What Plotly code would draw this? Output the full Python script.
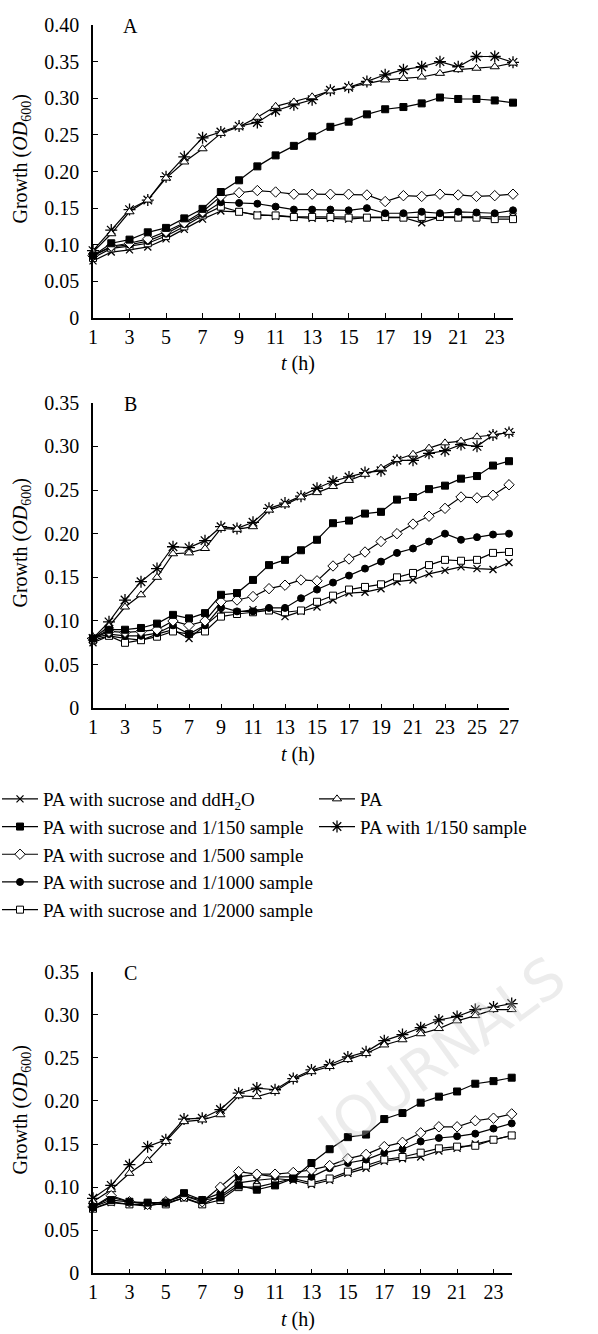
import plotly.graph_objects as go

W, H = 598, 1334

# ---------------- data ----------------
hours_A = [1, 2, 3, 4, 5, 6, 7, 8, 9, 10, 11, 12, 13, 14, 15, 16, 17, 18, 19, 20, 21, 22, 23, 24]
hours_B = [1, 2, 3, 4, 5, 6, 7, 8, 9, 10, 11, 12, 13, 14, 15, 16, 17, 18, 19, 20, 21, 22, 23, 24, 25, 26, 27]
hours_C = [1, 2, 3, 4, 5, 6, 7, 8, 9, 10, 11, 12, 13, 14, 15, 16, 17, 18, 19, 20, 21, 22, 23, 24]

series_names = [
    "PA with sucrose and ddH<sub>2</sub>O",
    "PA with sucrose and 1/150 sample",
    "PA with sucrose and 1/500 sample",
    "PA with sucrose and 1/1000 sample",
    "PA with sucrose and 1/2000 sample",
    "PA",
    "PA with 1/150 sample",
]

A_ddH2O = [0.078, 0.090, 0.093, 0.097, 0.108, 0.121, 0.135, 0.146, 0.145, 0.141, 0.139, 0.137, 0.136, 0.136, 0.135, 0.137, 0.137, 0.137, 0.130, 0.138, 0.138, 0.138, 0.137, 0.138]
A_s150 = [0.085, 0.102, 0.107, 0.117, 0.123, 0.136, 0.149, 0.172, 0.188, 0.207, 0.222, 0.235, 0.248, 0.261, 0.268, 0.278, 0.285, 0.288, 0.293, 0.301, 0.299, 0.299, 0.297, 0.294]
A_s500 = [0.085, 0.098, 0.102, 0.108, 0.118, 0.130, 0.145, 0.166, 0.171, 0.174, 0.172, 0.169, 0.169, 0.169, 0.169, 0.168, 0.159, 0.167, 0.166, 0.169, 0.168, 0.166, 0.167, 0.169]
A_s1000 = [0.085, 0.097, 0.100, 0.105, 0.115, 0.128, 0.142, 0.158, 0.157, 0.156, 0.152, 0.148, 0.148, 0.148, 0.147, 0.150, 0.143, 0.143, 0.145, 0.143, 0.145, 0.144, 0.143, 0.147]
A_s2000 = [0.082, 0.095, 0.098, 0.102, 0.112, 0.125, 0.140, 0.152, 0.145, 0.140, 0.140, 0.138, 0.138, 0.138, 0.137, 0.137, 0.138, 0.137, 0.138, 0.138, 0.137, 0.137, 0.135, 0.135]
A_PA = [0.090, 0.115, 0.145, 0.161, 0.191, 0.213, 0.231, 0.252, 0.261, 0.274, 0.289, 0.295, 0.302, 0.310, 0.315, 0.321, 0.325, 0.327, 0.329, 0.334, 0.339, 0.341, 0.343, 0.348]
A_PA150 = [0.092, 0.120, 0.148, 0.161, 0.193, 0.220, 0.246, 0.254, 0.262, 0.267, 0.283, 0.291, 0.298, 0.311, 0.315, 0.323, 0.332, 0.339, 0.343, 0.350, 0.343, 0.357, 0.357, 0.349]

B_ddH2O = [0.075, 0.083, 0.080, 0.078, 0.085, 0.090, 0.080, 0.095, 0.110, 0.110, 0.113, 0.112, 0.105, 0.111, 0.116, 0.124, 0.132, 0.133, 0.137, 0.145, 0.147, 0.154, 0.158, 0.162, 0.160, 0.159, 0.167]
B_s150 = [0.080, 0.090, 0.090, 0.092, 0.097, 0.107, 0.103, 0.109, 0.130, 0.132, 0.147, 0.164, 0.170, 0.181, 0.193, 0.212, 0.215, 0.223, 0.225, 0.239, 0.242, 0.251, 0.255, 0.263, 0.266, 0.278, 0.283]
B_s500 = [0.080, 0.088, 0.087, 0.088, 0.090, 0.100, 0.095, 0.100, 0.122, 0.124, 0.128, 0.137, 0.141, 0.147, 0.146, 0.163, 0.171, 0.179, 0.191, 0.200, 0.211, 0.220, 0.229, 0.242, 0.241, 0.244, 0.256]
B_s1000 = [0.080, 0.085, 0.083, 0.083, 0.086, 0.095, 0.085, 0.095, 0.116, 0.111, 0.111, 0.115, 0.115, 0.126, 0.136, 0.144, 0.152, 0.160, 0.168, 0.178, 0.183, 0.191, 0.200, 0.193, 0.196, 0.199, 0.200]
B_s2000 = [0.078, 0.083, 0.075, 0.078, 0.082, 0.088, 0.085, 0.088, 0.105, 0.108, 0.110, 0.112, 0.110, 0.112, 0.122, 0.129, 0.136, 0.139, 0.142, 0.150, 0.155, 0.164, 0.170, 0.169, 0.170, 0.178, 0.179]
B_PA = [0.080, 0.094, 0.116, 0.130, 0.150, 0.177, 0.178, 0.183, 0.206, 0.205, 0.208, 0.227, 0.233, 0.242, 0.247, 0.254, 0.261, 0.268, 0.275, 0.285, 0.291, 0.298, 0.304, 0.306, 0.311, 0.313, 0.316]
B_PA150 = [0.080, 0.099, 0.124, 0.145, 0.160, 0.185, 0.184, 0.192, 0.208, 0.206, 0.213, 0.229, 0.235, 0.243, 0.252, 0.260, 0.265, 0.270, 0.272, 0.284, 0.284, 0.292, 0.295, 0.302, 0.300, 0.313, 0.316]

C_ddH2O = [0.075, 0.082, 0.080, 0.078, 0.082, 0.087, 0.080, 0.090, 0.105, 0.108, 0.110, 0.108, 0.103, 0.108, 0.116, 0.122, 0.130, 0.133, 0.135, 0.142, 0.145, 0.150, 0.155, 0.160]
C_s150 = [0.077, 0.085, 0.083, 0.082, 0.082, 0.093, 0.085, 0.088, 0.102, 0.097, 0.102, 0.110, 0.128, 0.144, 0.158, 0.161, 0.179, 0.186, 0.198, 0.205, 0.211, 0.220, 0.223, 0.227]
C_s500 = [0.077, 0.090, 0.083, 0.080, 0.083, 0.090, 0.083, 0.100, 0.118, 0.115, 0.115, 0.117, 0.120, 0.125, 0.133, 0.138, 0.147, 0.152, 0.163, 0.170, 0.170, 0.177, 0.180, 0.185]
C_s1000 = [0.077, 0.088, 0.083, 0.081, 0.083, 0.090, 0.085, 0.093, 0.112, 0.115, 0.112, 0.112, 0.112, 0.122, 0.128, 0.132, 0.140, 0.144, 0.153, 0.157, 0.159, 0.162, 0.168, 0.174]
C_s2000 = [0.075, 0.083, 0.080, 0.080, 0.080, 0.088, 0.080, 0.085, 0.100, 0.100, 0.105, 0.110, 0.105, 0.110, 0.118, 0.125, 0.132, 0.135, 0.140, 0.145, 0.147, 0.148, 0.155, 0.160]
C_PA = [0.083, 0.097, 0.116, 0.131, 0.153, 0.176, 0.178, 0.184, 0.206, 0.205, 0.211, 0.225, 0.234, 0.240, 0.248, 0.255, 0.265, 0.271, 0.278, 0.284, 0.293, 0.299, 0.306, 0.306]
C_PA150 = [0.087, 0.102, 0.126, 0.147, 0.155, 0.179, 0.180, 0.190, 0.209, 0.215, 0.213, 0.226, 0.236, 0.242, 0.251, 0.257, 0.270, 0.277, 0.285, 0.294, 0.298, 0.306, 0.309, 0.313]

yticks_A = [0, 0.05, 0.10, 0.15, 0.20, 0.25, 0.30, 0.35, 0.40]
ytext_A = ["0", "0.05", "0.10", "0.15", "0.20", "0.25", "0.30", "0.35", "0.40"]
yticks_BC = [0, 0.05, 0.10, 0.15, 0.20, 0.25, 0.30, 0.35]
ytext_BC = ["0", "0.05", "0.10", "0.15", "0.20", "0.25", "0.30", "0.35"]
xticks_24 = [1, 3, 5, 7, 9, 11, 13, 15, 17, 19, 21, 23]
xticks_27 = [1, 3, 5, 7, 9, 11, 13, 15, 17, 19, 21, 23, 25, 27]
panel_labels = ["A", "B", "C"]

# ---------------- styling ----------------
FONT = "Liberation Serif, Times New Roman, serif"
styles = [
    dict(symbol="x-thin-open", size=7, color="black", line=dict(color="black", width=1.3)),
    dict(symbol="square", size=7, color="black", line=dict(color="black", width=1)),
    dict(symbol="diamond", size=8, color="white", line=dict(color="black", width=1)),
    dict(symbol="circle", size=7, color="black", line=dict(color="black", width=1)),
    dict(symbol="square", size=7, color="white", line=dict(color="black", width=1)),
    dict(symbol="triangle-up", size=8, color="white", line=dict(color="black", width=1)),
    dict(symbol="asterisk-open", size=10, color="black", line=dict(color="black", width=1.3)),
]
legend_of = ["legend", "legend", "legend", "legend", "legend", "legend2", "legend2"]


def px_x(p):
    return p / W


def px_y(p):
    return 1 - p / H


panels = [
    dict(hours=hours_A, data=[A_ddH2O, A_s150, A_s500, A_s1000, A_s2000, A_PA, A_PA150],
         x0=93, x1=513, ytop=25, ybot=318, yr=[0, 0.40], yt=yticks_A, ytt=ytext_A, xt=xticks_24,
         xr=[1, 24]),
    dict(hours=hours_B, data=[B_ddH2O, B_s150, B_s500, B_s1000, B_s2000, B_PA, B_PA150],
         x0=93, x1=509, ytop=402.7, ybot=708.3, yr=[0, 0.35], yt=yticks_BC, ytt=ytext_BC, xt=xticks_27,
         xr=[1, 27]),
    dict(hours=hours_C, data=[C_ddH2O, C_s150, C_s500, C_s1000, C_s2000, C_PA, C_PA150],
         x0=93, x1=511.7, ytop=971.7, ybot=1273.3, yr=[0, 0.35], yt=yticks_BC, ytt=ytext_BC, xt=xticks_24,
         xr=[1, 24]),
]

fig = go.Figure()
annotations = []
draw_order = [6, 5, 0, 4, 3, 2, 1]

for pi, p in enumerate(panels):
    sfx = "" if pi == 0 else str(pi + 1)
    for si in draw_order:
        fig.add_trace(go.Scatter(
            x=p["hours"], y=p["data"][si], mode="lines+markers",
            name=series_names[si],
            line=dict(color="black", width=1.2),
            marker=styles[si],
            cliponaxis=False,
            showlegend=(pi == 0),
            legend=legend_of[si],
            legendrank=si,
            xaxis="x" + sfx, yaxis="y" + sfx,
        ))
    axcommon = dict(showline=True, linecolor="black", linewidth=1.5, ticks="inside", ticklen=5,
                    tickwidth=1.3, tickcolor="black", showgrid=False, zeroline=False, automargin=False,
                    tickfont=dict(family=FONT, size=20, color="black"))
    fig.update_layout(**{
        "xaxis" + sfx: dict(domain=[px_x(p["x0"]), px_x(p["x1"])], range=p["xr"], tickvals=p["xt"],
                            ticktext=[str(v) for v in p["xt"]], anchor="y" + sfx,
                            ticklabelstandoff=0, **axcommon),
        "yaxis" + sfx: dict(domain=[px_y(p["ybot"]), px_y(p["ytop"])], range=p["yr"], tickvals=p["yt"],
                            ticktext=p["ytt"], anchor="x" + sfx, ticklabelstandoff=8, **axcommon),
    })
    # panel letter
    annotations.append(dict(text=panel_labels[pi], x=px_x(130), y=px_y(p["ytop"] + 1), xref="paper", yref="paper",
                            showarrow=False, font=dict(family=FONT, size=20, color="black"),
                            xanchor="center", yanchor="middle"))
    # x title
    annotations.append(dict(text="<i>t</i> (h)", x=px_x(298), y=px_y(p["ybot"] + 46), xref="paper", yref="paper",
                            showarrow=False, font=dict(family=FONT, size=20, color="black"),
                            xanchor="center", yanchor="middle"))
    # y title
    annotations.append(dict(text="Growth (<i>OD</i><sub>600</sub>)", x=px_x(21),
                            y=px_y((p["ytop"] + p["ybot"]) / 2 - 12), xref="paper", yref="paper",
                            showarrow=False, textangle=-90, font=dict(family=FONT, size=20, color="black"),
                            xanchor="center", yanchor="middle"))

# watermark
annotations.append(dict(text="JOURNALS", x=px_x(440), y=px_y(1055), xref="paper", yref="paper",
                        showarrow=False, textangle=-36,
                        font=dict(family="DejaVu Sans", size=56, color="rgba(200,200,200,0.35)"),
                        xanchor="center", yanchor="middle"))

legfont = dict(family=FONT, size=19, color="black")
fig.update_layout(
    width=W, height=H,
    margin=dict(l=0, r=0, t=0, b=0, pad=0, autoexpand=False),
    paper_bgcolor="white", plot_bgcolor="white",
    annotations=annotations,
    legend=dict(x=px_x(-3), y=px_y(780), xanchor="left", yanchor="top", font=legfont,
                bgcolor="rgba(0,0,0,0)", traceorder="normal", itemwidth=36, tracegroupgap=0),
    legend2=dict(x=px_x(314), y=px_y(780), xanchor="left", yanchor="top", font=legfont,
                 bgcolor="rgba(0,0,0,0)", traceorder="normal", itemwidth=36, tracegroupgap=0),
    showlegend=True,
)

fig.write_html("out.html", config={"displayModeBar": False},
               post_script="document.body.style.margin='0px';document.body.style.padding='0px';")
